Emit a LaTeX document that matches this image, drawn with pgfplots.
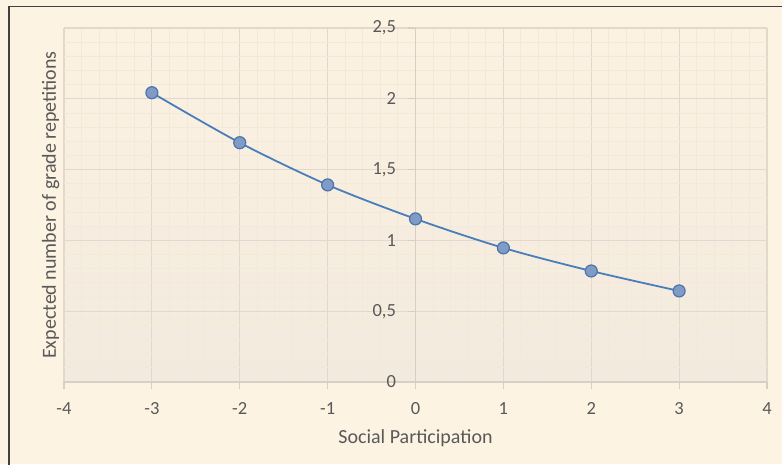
\documentclass[border=0pt]{standalone}
\usepackage{fontspec}
\setmainfont{Carlito}
\usepackage{pgfplots}
\pgfplotsset{compat=1.18}

\definecolor{bgcol}{HTML}{FDF3E3}
\definecolor{plottop}{HTML}{FCF2E2}
\definecolor{plotbot}{HTML}{F2EADE}
\definecolor{gridmaj}{HTML}{E2D9CC}
\definecolor{gridmin}{HTML}{F3E9D9}
\definecolor{axcol}{HTML}{D8CFC3}
\definecolor{txtcol}{HTML}{595959}
\definecolor{linecol}{HTML}{4A7EBB}
\definecolor{mkfill}{HTML}{7F9BC6}
\definecolor{mkdraw}{HTML}{4D74AB}

\begin{document}
\begin{tikzpicture}[x=1pt,y=1pt]
\fill[bgcol] (0,0) rectangle (782,464);
\useasboundingbox (0,0) rectangle (782,464);
% chart frame (only top and left edges are in view)
\draw[color=black!75, line width=1.4pt] (8.8,-10) -- (8.8,457.3) -- (800,457.3);

\begin{axis}[
  at={(64pt,82pt)}, anchor=south west,
  scale only axis, width=703pt, height=354pt,
  xmin=-4, xmax=4, ymin=0, ymax=2.5,
  xtick={-4,...,4},
  ytick={0,0.5,1,1.5,2,2.5},
  minor x tick num=4, minor y tick num=4,
  grid=both,
  major grid style={color=gridmaj, line width=1.2pt},
  minor grid style={color=gridmin, line width=0.9pt},
  axis x line*=bottom, axis y line*=middle,
  hide obscured x ticks=false, hide obscured y ticks=false,
  axis line style={color=axcol, line width=1.3pt, -},
  tick align=outside,
  major tick length=7pt, minor tick length=0pt,
  tick style={color=axcol, line width=1.2pt},
  axis background/.style={top color=plottop, bottom color=plotbot},
  /pgf/number format/.cd, use comma, assume math mode=true, /pgfplots/.cd,
  xticklabel style={font=\fontsize{18.5}{22}\selectfont, text=txtcol, anchor=north, yshift=-10pt},
  yticklabel style={font=\fontsize{18.5}{22}\selectfont, text=txtcol, anchor=east, xshift=-9pt},
  xlabel={Social Participation},
  ylabel={Expected number of grade repetitions},
  every axis x label/.style={at={(axis description cs:0.5,-0.158)}, anchor=center,
    font=\fontsize{20}{24}\selectfont, text=txtcol},
  every axis y label/.style={at={(axis description cs:-0.019,0.5)}, anchor=center,
    rotate=90, font=\fontsize{20}{24}\selectfont, text=txtcol},
]
\addplot[smooth, color=linecol, line width=1.8pt,
  mark=*, mark size=6pt,
  mark options={fill=mkfill, draw=mkdraw, line width=1.2pt}]
  coordinates {
  (-3, 2.043)
  (-2, 1.690)
  (-1, 1.392)
  (0, 1.152)
  (1, 0.947)
  (2, 0.784)
  (3, 0.643)
};
\end{axis}
\end{tikzpicture}
\end{document}
